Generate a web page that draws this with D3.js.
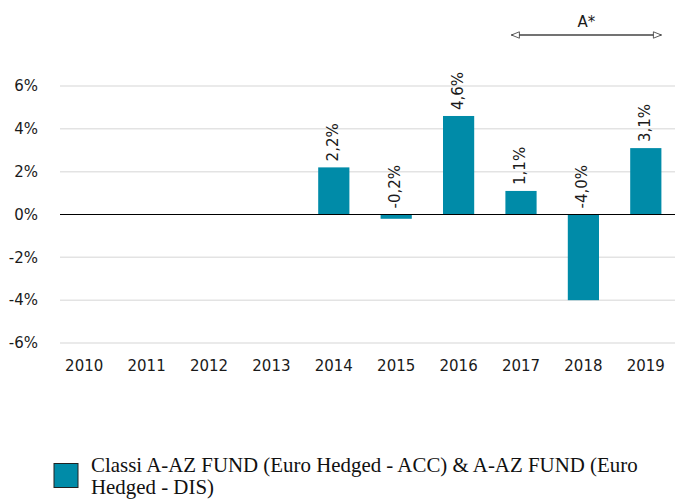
<!DOCTYPE html>
<html>
<head>
<meta charset="utf-8">
<script src="https://cdn.jsdelivr.net/npm/d3@7"></script>
<style>
  body { margin: 0; background: #fff; }
  svg { display: block; }
</style>
</head>
<body>
<div id="chart"></div>
<script>
var years = ['2010', '2011', '2012', '2013', '2014', '2015', '2016', '2017', '2018', '2019'];
var returns = [null, null, null, null, 2.2, -0.2, 4.6, 1.1, -4.0, 3.1];
var yTicks = [-6, -4, -2, 0, 2, 4, 6];
var seriesName = ['Classi A-AZ FUND (Euro Hedged - ACC) & A-AZ FUND (Euro', 'Hedged - DIS)'];
var noteLabel = 'A*';
var noteYears = ['2017', '2019'];

var w = 675, h = 500;
var barColor = '#008ba8';
var sans = "'DejaVu Sans', Verdana, sans-serif";

var svg = d3.select('#chart').append('svg')
  .attr('width', w)
  .attr('height', h);

var x = d3.scaleBand().domain(years).range([53, 677])
  .paddingInner(0.5).paddingOuter(0.25);
var y = d3.scaleLinear().domain([-6, 6]).range([343, 86]);

// gridlines
svg.append('g').selectAll('line')
  .data(yTicks.filter(function(d) { return d !== 0; }))
  .enter().append('line')
  .attr('x1', 60).attr('x2', 675)
  .attr('y1', function(d) { return y(d); })
  .attr('y2', function(d) { return y(d); })
  .attr('stroke', '#e3e3e3')
  .attr('stroke-width', 1.5);

// y axis labels
var yAxis = d3.axisLeft(y).tickValues(yTicks).tickSize(0).tickPadding(0)
  .tickFormat(function(d) { return d + '%'; });
svg.append('g')
  .attr('transform', 'translate(38,0)')
  .call(yAxis)
  .attr('font-family', sans)
  .attr('font-size', 15)
  .call(function(g) { g.select('.domain').remove(); })
  .selectAll('text')
  .attr('fill', '#1a1a1a');

// x axis labels
var xAxis = d3.axisBottom(x).tickSize(0).tickPadding(0);
svg.append('g')
  .attr('transform', 'translate(0,360)')
  .call(xAxis)
  .attr('font-family', sans)
  .attr('font-size', 15)
  .call(function(g) { g.select('.domain').remove(); })
  .selectAll('text')
  .attr('fill', '#1a1a1a');

var data = years.map(function(yr, i) { return { year: yr, v: returns[i] }; })
  .filter(function(d) { return d.v !== null; });

svg.append('g').selectAll('rect')
  .data(data)
  .enter().append('rect')
  .attr('x', function(d) { return x(d.year); })
  .attr('width', x.bandwidth())
  .attr('y', function(d) { return y(Math.max(0, d.v)); })
  .attr('height', function(d) { return Math.abs(y(d.v) - y(0)); })
  .attr('fill', barColor);

// zero line
svg.append('line')
  .attr('x1', 60).attr('x2', 675)
  .attr('y1', y(0)).attr('y2', y(0))
  .attr('stroke', '#000')
  .attr('stroke-width', 1.2);

// value labels
svg.append('g').selectAll('text')
  .data(data)
  .enter().append('text')
  .attr('transform', function(d) {
    var cx = x(d.year) + x.bandwidth() / 2 + 4;
    var cy = y(Math.max(0, d.v)) - 6;
    return 'translate(' + cx + ',' + cy + ') rotate(-90)';
  })
  .attr('font-family', sans)
  .attr('font-size', 15)
  .attr('fill', '#1a1a1a')
  .text(function(d) { return d.v.toFixed(1).replace('.', ',') + '%'; });

// A* annotation arrow
var defs = svg.append('defs');
['start', 'end'].forEach(function(k) {
  defs.append('marker')
    .attr('id', 'arr-' + k)
    .attr('viewBox', '0 0 10 10')
    .attr('refX', k === 'end' ? 10 : 0).attr('refY', 5)
    .attr('markerWidth', 10).attr('markerHeight', 8)
    .attr('markerUnits', 'userSpaceOnUse')
    .attr('orient', 'auto')
    .append('path')
    .attr('d', k === 'end' ? 'M0,1 L10,5 L0,9 Z' : 'M10,1 L0,5 L10,9 Z')
    .attr('fill', '#fff')
    .attr('stroke', '#333')
    .attr('stroke-width', 1);
});
var ax1 = x(noteYears[0]) + 6, ax2 = x(noteYears[1]) + x.bandwidth();
svg.append('line')
  .attr('x1', ax1).attr('x2', ax2)
  .attr('y1', 35).attr('y2', 35)
  .attr('stroke', '#444')
  .attr('stroke-width', 1.5)
  .attr('marker-start', 'url(#arr-start)')
  .attr('marker-end', 'url(#arr-end)');
svg.append('text')
  .attr('x', (ax1 + ax2) / 2)
  .attr('y', 27)
  .attr('text-anchor', 'middle')
  .attr('font-family', sans)
  .attr('font-size', 15)
  .attr('fill', '#1a1a1a')
  .text(noteLabel);

// legend
svg.append('rect')
  .attr('x', 54).attr('y', 463.5)
  .attr('width', 24).attr('height', 24)
  .attr('fill', barColor)
  .attr('stroke', '#222')
  .attr('stroke-width', 1);
svg.append('g').selectAll('text')
  .data(seriesName)
  .enter().append('text')
  .attr('x', 91)
  .attr('y', function(d, i) { return 472 + i * 22; })
  .attr('font-family', "'Liberation Serif', serif")
  .attr('font-size', 20.9)
  .attr('fill', '#111')
  .text(function(d) { return d; });
</script>
</body>
</html>
